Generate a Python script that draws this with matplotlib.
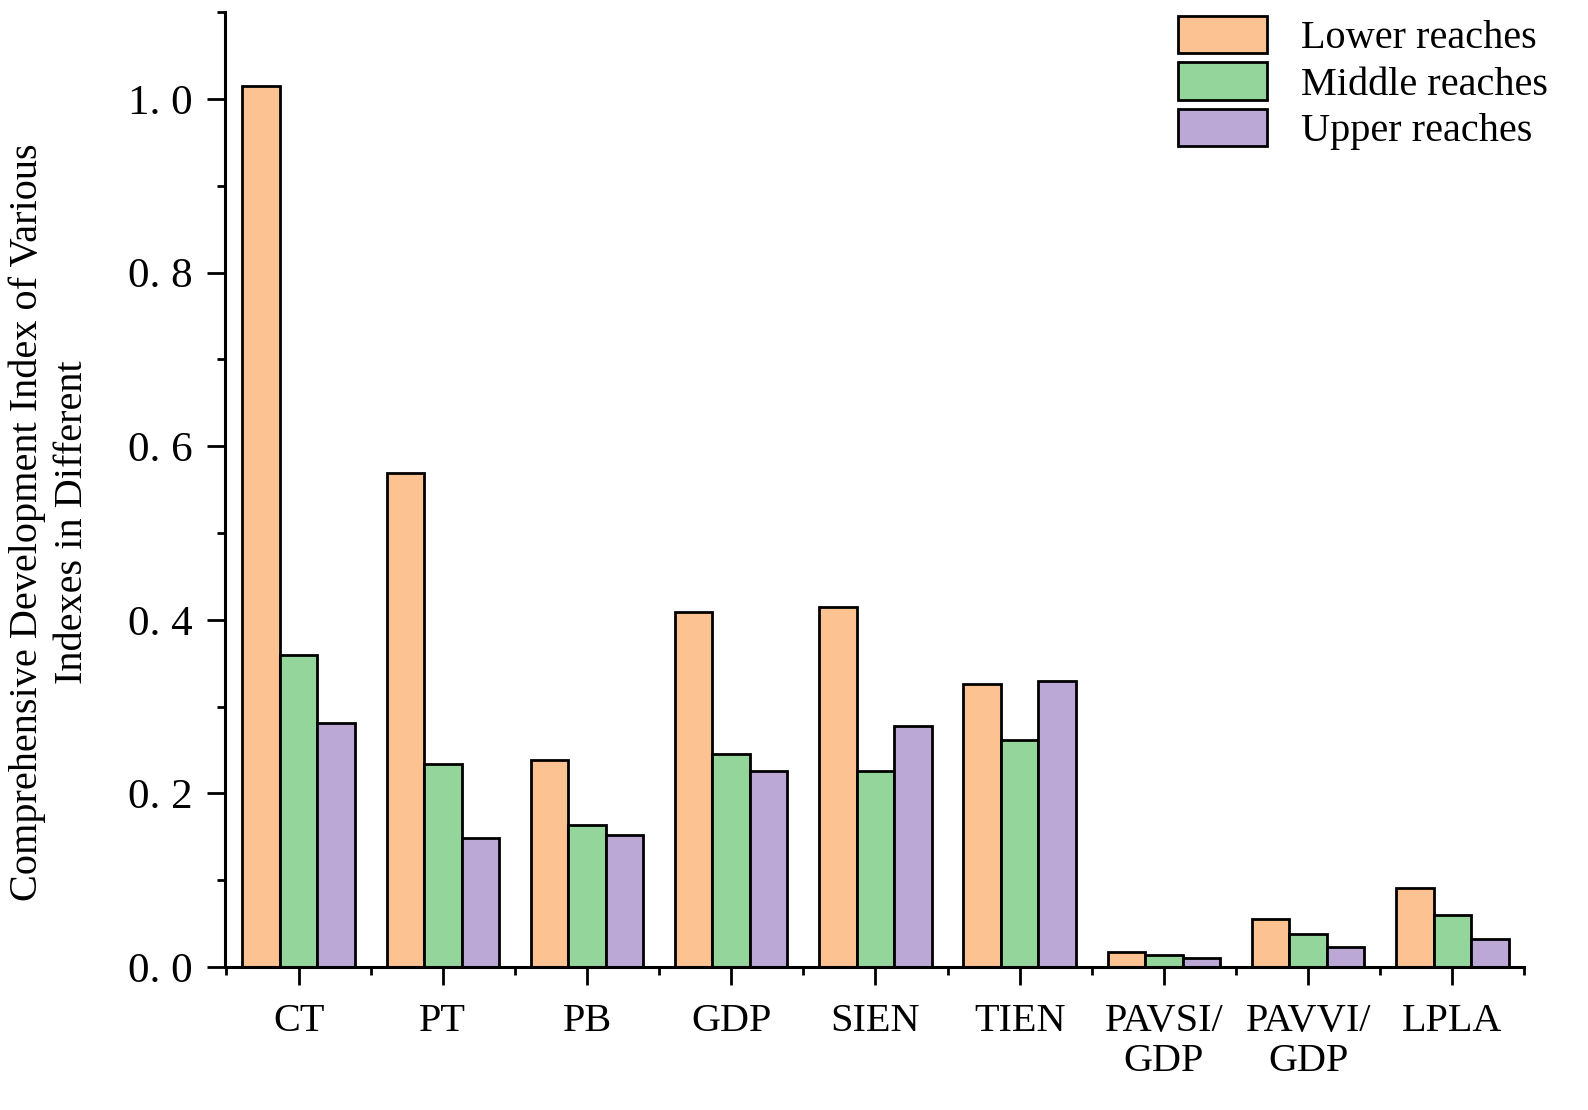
import matplotlib
matplotlib.use("Agg")
import matplotlib.pyplot as plt
import numpy as np
from matplotlib.ticker import MultipleLocator, FixedLocator

categories = ["CT", "PT", "PB", "GDP", "SIEN", "TIEN", "PAVSI/\nGDP", "PAVVI/\nGDP", "LPLA"]
lower = [1.015, 0.569, 0.239, 0.409, 0.415, 0.326, 0.017, 0.055, 0.091]
middle = [0.359, 0.234, 0.164, 0.245, 0.226, 0.262, 0.014, 0.038, 0.060]
upper = [0.281, 0.149, 0.152, 0.226, 0.278, 0.329, 0.010, 0.023, 0.032]
series_names = ["Lower reaches", "Middle reaches", "Upper reaches"]
colors = ["#FDC291", "#94D59C", "#BBA8D6"]
yticks = [0.0, 0.2, 0.4, 0.6, 0.8, 1.0]

plt.rcParams['font.family'] = ['Liberation Serif', 'DejaVu Serif']

fig = plt.figure(figsize=(15.88, 11.10), dpi=100)
ax = fig.add_axes([0.1417, 0.1288, 0.8183, 0.8602])

x = np.arange(len(categories))
w = 0.26
for i, (vals, name, c) in enumerate(zip([lower, middle, upper], series_names, colors)):
    ax.bar(x + (i - 1) * w, vals, width=w, color=c, edgecolor="black", linewidth=2, label=name)

ax.set_xlim(-0.51, len(categories) - 0.5)
ax.set_ylim(0, 1.10)
ax.yaxis.set_major_locator(FixedLocator(yticks))
ax.set_yticklabels([f"{v:.1f}".replace(".", ". ") for v in yticks])
ax.yaxis.set_minor_locator(MultipleLocator(0.1))
ax.set_xticks(x)
ax.set_xticklabels(categories, linespacing=1.1)
ax.xaxis.set_minor_locator(FixedLocator(np.arange(-0.5, len(categories), 1.0)))

for s in ["top", "right"]:
    ax.spines[s].set_visible(False)
for s in ["left", "bottom"]:
    ax.spines[s].set_linewidth(2.2)

ax.tick_params(axis="both", which="major", direction="out", length=13, width=2.0)
ax.tick_params(axis="both", which="minor", direction="out", length=6, width=2.0)
ax.tick_params(axis="y", which="major", labelsize=31, pad=10)
ax.tick_params(axis="x", which="major", labelsize=29, pad=13)

ax.set_ylabel("Comprehensive Development Index of Various\nIndexes in Different", fontsize=29, linespacing=1.3)
ax.yaxis.set_label_coords(-0.103, 0.466)

leg = ax.legend(loc="upper right", bbox_to_anchor=(1548 / 1588, 1 - 16 / 1110),
                bbox_transform=fig.transFigure, frameon=False, fontsize=29,
                handlelength=2.2, handleheight=1.05, handletextpad=0.85, labelspacing=0.12,
                borderpad=0.0, borderaxespad=0.0)

fig.savefig("out.png", dpi=100)
